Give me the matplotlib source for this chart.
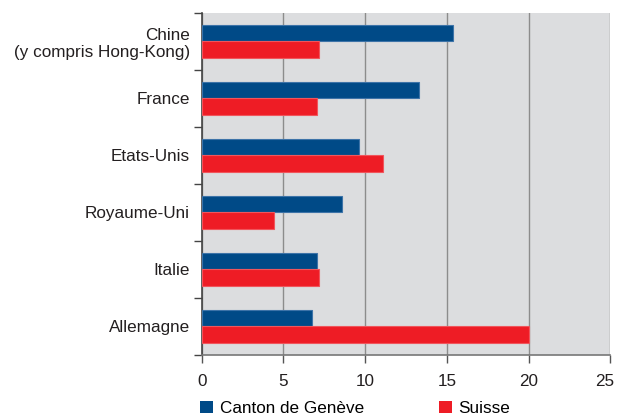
import numpy as np
import matplotlib
matplotlib.use("Agg")
import matplotlib.pyplot as plt
import matplotlib.transforms as mtransforms
from matplotlib.patches import Patch

plt.rcParams['font.family'] = ['Liberation Sans', 'DejaVu Sans']

pays = ['Chine\n(y compris Hong-Kong)', 'France', 'Etats-Unis',
        'Royaume-Uni', 'Italie', 'Allemagne']
geneve = [15.35, 13.3, 9.6, 8.6, 7.05, 6.75]
suisse = [7.15, 7.05, 11.1, 4.45, 7.2, 20.0]
xticks = [0, 5, 10, 15, 20, 25]

bleu = '#004a87'
rouge = '#ee1c25'
fs = 12.3

fig = plt.figure(figsize=(6.17, 4.17), dpi=100)
ax = fig.add_axes([0.327, 0.149, 0.662, 0.82])
ax.set_facecolor('#dcdddf')

y = np.arange(len(pays))
h = 0.29
ax.barh(y - h / 2, geneve, height=h, color=bleu, edgecolor='#3d73a8', linewidth=0.8, zorder=3)
ax.barh(y + h / 2, suisse, height=h, color=rouge, edgecolor='#f0555c', linewidth=0.8, zorder=3)

ax.set_ylim(len(pays) - 0.5, -0.5)
ax.set_xlim(0, 25)
ax.set_xticks(xticks)
ax.set_xticklabels([str(t) for t in xticks], fontsize=fs, color='#231f20')
ax.set_yticks(y)
ax.set_yticklabels(pays, fontsize=fs, color='#231f20', multialignment='right')
ax.set_yticks(np.arange(len(pays) + 1) - 0.5, minor=True)
ax.tick_params(axis='y', which='major', length=0, pad=8.5)
ax.tick_params(axis='y', which='minor', length=6, width=1, color='#444444', direction='out')
ax.tick_params(axis='x', length=6, width=1, color='#555555', pad=8)

# le dernier libellé (25) déborde à droite, on le décale un peu
last = ax.get_xticklabels()[-1]
last.set_transform(last.get_transform() + mtransforms.ScaledTranslation(-6 / 100, 0, fig.dpi_scale_trans))

ax.grid(axis='x', color='#8c8c8c', linewidth=1, zorder=0)
ax.set_axisbelow(True)
for s in ['top', 'right']:
    ax.spines[s].set_visible(False)
ax.spines['left'].set_color('#444444')
ax.spines['bottom'].set_color('#777777')
ax.spines['left'].set_linewidth(1.2)
ax.spines['bottom'].set_linewidth(1.2)

handles = [Patch(facecolor=bleu, label='Canton de Genève'),
           Patch(facecolor=rouge, label='Suisse')]
fig.legend(handles=handles, loc='lower left', bbox_to_anchor=(0.324, 0.002), ncol=2,
           frameon=False, fontsize=fs, handlelength=0.74, handleheight=0.74,
           handletextpad=0.41, columnspacing=4.4, borderpad=0, borderaxespad=0)

fig.savefig('out.png', dpi=100)
